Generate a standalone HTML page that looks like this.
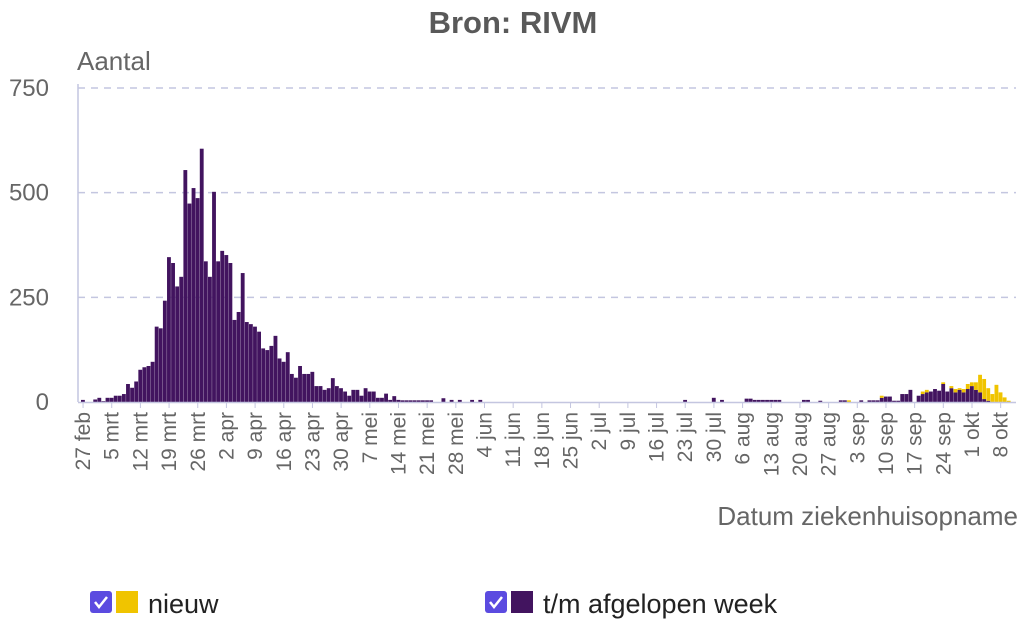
<!DOCTYPE html>
<html><head><meta charset="utf-8"><style>
body{margin:0;background:#fff;}
svg text{font-family:"Liberation Sans",sans-serif;}
</style></head><body>
<svg id="c" width="1024" height="626">
<text x="513" y="33" text-anchor="middle" font-size="31" font-weight="bold" fill="#595959">Bron: RIVM</text>
<text x="77" y="70" font-size="26" fill="#666">Aantal</text>
<text x="1018" y="525" text-anchor="end" font-size="26" fill="#666">Datum ziekenhuisopname</text>
<g id="grid"></g><g id="bars"></g><g id="xl"></g>
<g>
<g>
<rect x="90" y="591" width="22" height="22" rx="3" fill="#5b4be0"/>
<path d="M95 602 l4 5 l8 -10" stroke="#fff" stroke-width="2.5" fill="none"/>
<rect x="116" y="591" width="22" height="22" fill="#f0c400"/>
<text x="148" y="613" font-size="27" fill="#222">nieuw</text></g>
<g>
<rect x="485" y="591" width="22" height="22" rx="3" fill="#5b4be0"/>
<path d="M490 602 l4 5 l8 -10" stroke="#fff" stroke-width="2.5" fill="none"/>
<rect x="511" y="591" width="22" height="22" fill="#42145f"/>
<text x="543" y="613" font-size="27" fill="#222">t/m afgelopen week</text></g>
</g>
</svg>
<script>
const yTicks=[0,250,500,750];
const weekLabels=["27 feb","5 mrt","12 mrt","19 mrt","26 mrt","2 apr","9 apr","16 apr","23 apr","30 apr","7 mei","14 mei","21 mei","28 mei","4 jun","11 jun","18 jun","25 jun","2 jul","9 jul","16 jul","23 jul","30 jul","6 aug","13 aug","20 aug","27 aug","3 sep","10 sep","17 sep","24 sep","1 okt","8 okt"];
const purple=new Array(227).fill(0);
const yellow=new Array(227).fill(0);
const early=[5,0,0,6,10,2,10,10,15,15,19,43,34,49,77,83,86,96,180,176,242,346,332,276,299,554,474,511,487,605,336,299,502,336,361,351,332,196,215,308,191,186,180,168,128,124,134,158,104,96,119,67,58,86,67,67,72,38,38,29,33,57,38,33,25,15,29,29,15,33,25,25,10,10,20,5,14,5,4,4,4,4,4,4,4,4,0,0,9,0,5,0,5,0,0,5,0,5];
early.forEach((v,i)=>purple[i]=v);
const late={147:5,154:10,156:5,162:8,163:8,164:5,165:5,166:5,167:5,168:5,169:5,170:5,176:5,177:5,180:3,185:4,186:4,190:4,192:4,193:4,194:4,195:10,196:13,197:13,198:3,199:3,200:19,201:19,202:29,204:15,205:19,206:23,207:25,208:31,209:27,210:43,211:25,212:33,213:23,214:29,215:23,216:31,217:38,218:29,219:23,220:7,221:3};
for(const k in late)purple[k]=late[k];
const lateY={187:4,195:5,205:6,206:6,210:4,212:5,213:8,214:4,215:8,216:12,217:9,218:18,219:42,220:48,221:30,222:19,223:41,224:23,225:11,226:3};
for(const k in lateY)yellow[k]=lateY[k];
const NS="http://www.w3.org/2000/svg";
const x0=81,bw=934/228,yBase=402,yTop=88;
const xS=i=>x0+i*bw;
const yS=v=>yBase-(v/750)*(yBase-yTop);
function mk(t,a,p){const e=document.createElementNS(NS,t);for(const k in a)e.setAttribute(k,a[k]);p.appendChild(e);return e;}
const grid=document.getElementById('grid'),bars=document.getElementById('bars'),xl=document.getElementById('xl');
yTicks.forEach(v=>{
 if(v>0){const l=mk('line',{x1:78,x2:1016,y1:yS(v),y2:yS(v),stroke:'#c4c6e0','stroke-width':1.5,'stroke-dasharray':'7,6'},grid);
 
 }
 const t=mk('text',{x:49,y:yS(v)+8,'text-anchor':'end','font-size':24,fill:'#666'},grid);t.textContent=v;
 
 
});
const ax=mk('line',{x1:78,x2:78,y1:84,y2:402,stroke:'#c4c6e0','stroke-width':1.5},grid);


purple.forEach((v,i)=>{
 if(v>0){const r=mk('rect',{x:xS(i),y:yS(v),width:bw-0.25,height:yBase-yS(v),fill:'#42145f'},bars);
 
 }
 const y=yellow[i];
 if(y>0){const r=mk('rect',{x:xS(i),y:yS(v+y),width:bw-0.25,height:yS(v)-yS(v+y),fill:'#f0c400'},bars);
 
 }
});
const xa=mk('line',{x1:78,x2:1016,y1:402.5,y2:402.5,stroke:'#c4c6e0','stroke-width':1.5},bars);


weekLabels.forEach((s,k)=>{
 const cx=xS(k*7)+bw/2;
 mk('line',{x1:cx,x2:cx,y1:402,y2:408,stroke:'#c4c6e0'},xl);
 const t=mk('text',{x:0,y:0,'text-anchor':'end','font-size':21,fill:'#666',transform:`translate(${cx+7},412) rotate(-90)`},xl);
 t.textContent=s;
 
 
});
</script>
</body></html>
